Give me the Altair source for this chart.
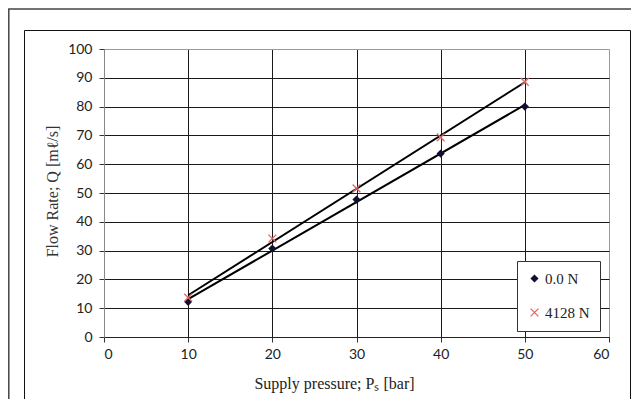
import altair as alt
import pandas as pd

# ---- data ----
series_names = ["0.0 N", "4128 N"]
pressure = [10, 20, 30, 40, 50]
flow_0N = [12.2, 30.7, 47.7, 63.7, 80.0]
flow_4128N = [13.7, 34.2, 51.6, 69.3, 88.6]
x_ticks = [0, 10, 20, 30, 40, 50, 60]
y_ticks = [0, 10, 20, 30, 40, 50, 60, 70, 80, 90, 100]

rows = []
for name, vals in zip(series_names, [flow_0N, flow_4128N]):
    for p, q in zip(pressure, vals):
        rows.append({"series": name, "P": p, "Q": q})
df = pd.DataFrame(rows)

W, H = 505, 288
serif = "Liberation Serif"
sans = "Lato"

xenc = alt.X("P:Q", scale=alt.Scale(domain=[0, 60], nice=False),
             axis=alt.Axis(values=x_ticks, title="Supply pressure;  Pₛ [bar]",
                           titleFont=serif, titleFontSize=16, titleFontWeight="normal",
                           titleColor="#222", titleX=230, titleY=46, titleBaseline="middle",
                           labelFont=sans, labelFontSize=14, labelColor="#222", labelPadding=5,
                           tickSize=5, tickColor="#333", domainColor="#222",
                           grid=True,
                           gridColor={"condition": {"test": "datum.value === 60", "value": "#999"}, "value": "#1a1a1a"},
                           gridWidth=1))
yenc = alt.Y("Q:Q", scale=alt.Scale(domain=[0, 100], nice=False),
             axis=alt.Axis(values=y_ticks, title="Flow Rate;  Q [mℓ/s]",
                           titleFont=serif, titleFontSize=16, titleFontWeight="normal",
                           titleColor="#333", titleX=-52, titleY=142, titleAngle=-90,
                           titleBaseline="middle",
                           labelFont=sans, labelFontSize=14, labelColor="#222", labelPadding=7,
                           tickSize=5, tickColor="#333", domainColor="#888",
                           grid=True,
                           gridColor={"condition": {"test": "datum.value === 100", "value": "#999"}, "value": "#1a1a1a"},
                           gridWidth=1))

frame_df = pd.DataFrame({"k": [0]})
outer = alt.Chart(frame_df).mark_rect(filled=False, stroke="#444", strokeWidth=1.5).encode(
    x=alt.value(-95.2), x2=alt.value(560), y=alt.value(-40), y2=alt.value(420))
inner = alt.Chart(frame_df).mark_rect(filled=False, stroke="#111", strokeWidth=1).encode(
    x=alt.value(-79.5), x2=alt.value(526.5), y=alt.value(-18.5), y2=alt.value(420))

lines = alt.Chart(df).transform_regression(
    "P", "Q", groupby=["series"]
).mark_line(color="black", strokeWidth=2).encode(
    x=xenc, y=yenc, detail="series:N")

diamond = "M0,-1L1,0L0,1L-1,0Z"
xshape = "M-1,-1L1,1M-1,1L1,-1"
points = alt.Chart(df).mark_point(filled=False, strokeWidth=1.3, opacity=1).encode(
    x=xenc, y=yenc,
    shape=alt.Shape("series:N", scale=alt.Scale(domain=series_names, range=[diamond, xshape]),
                    legend=alt.Legend(title=None, orient="none", legendX=413, legendY=212,
                                      padding=10, rowPadding=18, labelFont=serif,
                                      labelFontSize=15, labelColor="#222", labelOffset=3,
                                      symbolStrokeWidth=1.3,
                                      strokeColor="#333", fillColor="white", symbolSize=60)),
    color=alt.Color("series:N", scale=alt.Scale(domain=series_names, range=["#101030", "#e06666"]),
                    legend=alt.Legend(title=None, orient="none", legendX=413, legendY=212)),
    fill=alt.Fill("series:N", scale=alt.Scale(domain=series_names, range=["#101030", "transparent"]),
                  legend=alt.Legend(title=None, orient="none", legendX=413, legendY=212)),
    size=alt.Size("series:N", scale=alt.Scale(domain=series_names, range=[40, 60]),
                  legend=alt.Legend(title=None, orient="none", legendX=413, legendY=212)),
)

chart = alt.layer(outer, inner, lines, points).properties(
    width=W, height=H,
    autosize=alt.AutoSizeParams(type="none"),
    padding={"left": 96, "top": 41, "right": 22, "bottom": 62},
).configure_view(stroke="#999", strokeWidth=1).configure(background="white")

chart.save("out.html", embed_options={"renderer": "svg", "actions": False})
